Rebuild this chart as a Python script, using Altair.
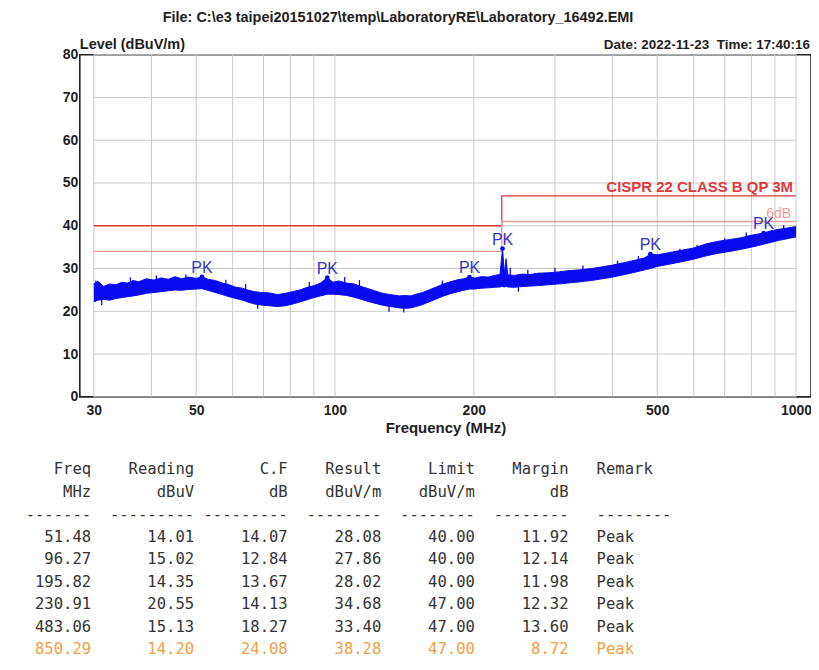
import altair as alt
import pandas as pd

NB = "\u00a0"
ZW = "\u200b"

# ---------------- texts ----------------
title_text = "File: C:\\e3 taipei20151027\\temp\\LaboratoryRE\\Laboratory_16492.EMI"
ylabel_text = "Level (dBuV/m)"
date_text = "Date: 2022-11-23" + NB + NB + "Time: 17:40:16"
limit_text = "CISPR 22 CLASS B QP 3M"
margin_text = "6dB"
xtitle_text = "Frequency (MHz)"

# ---------------- axes / grid ----------------
grid_freqs = [30, 40, 50, 60, 70, 80, 90, 100, 200, 300, 400, 500, 600, 700, 800, 900, 1000]
grid_levels = [0, 10, 20, 30, 40, 50, 60, 70, 80]
x_ticks = [30, 50, 100, 200, 500, 1000]
y_ticks = [0, 10, 20, 30, 40, 50, 60, 70, 80]

band_freq = [30, 30.6, 31.5, 32.5, 33.5, 34.5, 35.5, 36.5, 37.5, 39, 40.5, 42, 43.5, 45, 46.5, 48, 50,
             51.48, 53, 55, 57, 59, 61, 63, 65, 67, 69, 72, 75, 78, 81, 84, 87, 90, 93, 96.27, 99,
             102, 106, 110, 114, 118, 122, 126, 130, 134, 138, 142, 146, 150, 155, 160, 166, 172,
             178, 185, 190, 195.82, 201, 208, 215, 222, 228, 230.91, 233, 235, 237, 245, 255, 265,
             275, 290, 305, 320, 340, 360, 380, 400, 425, 450, 470, 483.06, 500, 530, 560, 600,
             640, 680, 720, 760, 800, 830, 850.29, 880, 920, 960, 1000]
band_lo = [22.2, 22.6, 22.8, 22.6, 23.0, 23.2, 23.4, 23.6, 23.8, 24.2, 24.4, 24.6, 24.8, 25.0, 24.9,
           25.1, 25.2, 25.3, 24.9, 24.4, 23.9, 23.4, 23.0, 22.6, 22.1, 21.7, 21.5, 21.3, 21.1, 21.3,
           21.7, 22.2, 22.7, 23.2, 23.6, 24.0, 24.0, 23.9, 23.7, 23.3, 22.8, 22.3, 21.9, 21.5, 21.2,
           21.0, 20.8, 20.7, 20.8, 21.1, 21.6, 22.2, 22.9, 23.6, 24.1, 24.6, 24.9, 25.2, 25.2, 25.4,
           25.5, 25.6, 25.7, 25.8, 25.7, 25.8, 25.7, 25.6, 25.8, 25.9, 26.0, 26.2, 26.4, 26.6, 26.9,
           27.2, 27.6, 28.0, 28.6, 29.2, 29.7, 30.0, 30.5, 31.0, 31.5, 32.2, 33.0, 33.6, 34.0, 34.5,
           35.0, 35.4, 35.7, 36.1, 36.6, 37.0, 37.4]
band_hi = [26.4, 27.0, 25.8, 26.4, 26.2, 26.8, 26.6, 27.2, 26.9, 27.6, 27.3, 27.8, 27.5, 28.1, 27.6,
           28.0, 27.7, 28.08, 27.5, 27.2, 26.6, 26.2, 25.6, 25.4, 24.9, 24.6, 24.4, 24.3, 23.9, 24.2,
           24.6, 25.0, 25.6, 26.0, 26.6, 27.86, 26.8, 27.1, 26.6, 26.4, 25.8, 25.3, 24.8, 24.3, 24.0,
           23.8, 23.6, 23.7, 23.6, 24.0, 24.4, 25.0, 25.7, 26.4, 26.9, 27.4, 27.6, 28.02, 27.8, 28.1,
           28.0, 28.4, 28.6, 34.68, 28.7, 32.3, 28.5, 28.4, 28.7, 28.6, 28.9, 29.0, 29.2, 29.5, 29.7,
           30.0, 30.4, 30.8, 31.4, 32.0, 32.5, 33.40, 33.2, 33.7, 34.2, 34.8, 35.8, 36.4, 36.8, 37.2,
           37.8, 38.1, 38.28, 38.8, 39.2, 39.5, 39.8]

# isolated noise excursions visible on the trace
spike_freq = [30.3, 31.2, 36, 41, 47.5, 58, 64, 68, 88, 105, 113, 131, 141, 171, 240, 250, 262,
              300, 345, 410, 455, 560, 610, 700, 780, 940]
spike_lo = [24.0, 21.4, 25.0, 25.8, 26.2, 24.9, 24.0, 20.6, 24.1, 25.2, 24.3, 19.9, 19.7, 24.9,
            27.1, 24.6, 27.2, 27.6, 28.3, 29.6, 30.4, 32.3, 32.9, 34.9, 36.2, 38.0]
spike_hi = [27.2, 24.0, 27.9, 28.4, 28.6, 27.4, 26.4, 23.0, 26.9, 28.0, 27.3, 22.6, 22.2, 27.2,
            30.2, 27.0, 29.7, 30.2, 30.7, 31.8, 32.9, 34.6, 35.5, 37.1, 38.4, 40.1]

# ---------------- limit lines ----------------
limit_freq = [30, 230, 1000]
limit_level = [40, 47, 47]
margin_level = [34, 41, 41]

# ---------------- peak table ----------------
pk_freq = [51.48, 96.27, 195.82, 230.91, 483.06, 850.29]
pk_reading = [14.01, 15.02, 14.35, 20.55, 15.13, 14.20]
pk_cf = [14.07, 12.84, 13.67, 14.13, 18.27, 24.08]
pk_result = [28.08, 27.86, 28.02, 34.68, 33.40, 38.28]
pk_limit = [40.00, 40.00, 40.00, 47.00, 47.00, 47.00]
pk_margin = [11.92, 12.14, 11.98, 12.32, 13.60, 8.72]
pk_remark = ["Peak"] * 6

head1 = ["Freq", "Reading", "C.F", "Result", "Limit", "Margin"]
head2 = ["MHz", "dBuV", "dB", "dBuV/m", "dBuV/m", "dB"]
dash_counts = [7, 9, 9, 8, 8, 8]
col_widths = [8, 11, 10, 10, 10, 10]

# ---------------- colours / fonts ----------------
FONT = "Liberation Sans"
MONO = "DejaVu Sans Mono"
BLUE = "#0a0af0"
PKBLUE = "#3434c8"
RED = "#e2383a"
PINK = "#f09a9a"
GRID = "#c9c9c9"
TEXT = "#1e1e1e"
TABLE = "#333333"
ORANGE = "#ef9f45"

W, H = 733, 343
xscale = alt.Scale(type="log", domain=[27.97, 1077.5], nice=False)
yscale = alt.Scale(domain=[0, 80], nice=False, zero=False)
xaxis = alt.Axis(values=x_ticks, title=xtitle_text, labelPadding=7, titlePadding=3,
                 labelFlush=False, format="d", labelBaseline="top")
yaxis = alt.Axis(values=y_ticks, title=None, labelPadding=2, labelFlush=False,
                 labelBaseline="middle", labelAlign="right")


def X(field):
    return alt.X(field, type="quantitative", scale=xscale, axis=xaxis)


def Y(field):
    return alt.Y(field, type="quantitative", scale=yscale, axis=yaxis)


vgrid_df = pd.DataFrame({"f": grid_freqs, "lo": [0] * len(grid_freqs), "hi": [80] * len(grid_freqs)})
hgrid_df = pd.DataFrame({"v": grid_levels, "f0": [30] * len(grid_levels), "f1": [1000] * len(grid_levels)})
band_df = pd.DataFrame({"f": band_freq, "lo": band_lo, "hi": band_hi})
spike_df = pd.DataFrame({"f": spike_freq, "lo": spike_lo, "hi": spike_hi})
limit_df = pd.DataFrame({"f": limit_freq, "v": limit_level})
margin_df = pd.DataFrame({"f": limit_freq, "v": margin_level})
pk_df = pd.DataFrame({"f": pk_freq, "v": pk_result, "t": ["PK"] * len(pk_freq)})

vgrid = alt.Chart(vgrid_df).mark_rule(color=GRID, strokeWidth=1).encode(
    x=X("f"), y=Y("lo"), y2="hi")
hgrid = alt.Chart(hgrid_df).mark_rule(color=GRID, strokeWidth=1).encode(
    x=X("f0"), x2="f1", y=Y("v"))
limit_line = alt.Chart(limit_df).mark_line(color=RED, strokeWidth=1.3, interpolate="step-after").encode(
    x=X("f"), y=Y("v"))
margin_line = alt.Chart(margin_df).mark_line(color=PINK, strokeWidth=1.3, interpolate="step-after").encode(
    x=X("f"), y=Y("v"))
band = alt.Chart(band_df).mark_area(color=BLUE, opacity=1).encode(
    x=X("f"), y=Y("lo"), y2="hi")
band_top = alt.Chart(band_df).mark_line(color=BLUE, strokeWidth=1).encode(x=X("f"), y=Y("hi"))
band_bot = alt.Chart(band_df).mark_line(color=BLUE, strokeWidth=1).encode(x=X("f"), y=Y("lo"))
spikes = alt.Chart(spike_df).mark_rule(color=BLUE, strokeWidth=1.3).encode(
    x=X("f"), y=Y("lo"), y2="hi")
pk_dots = alt.Chart(pk_df).mark_circle(color=BLUE, size=22, opacity=1).encode(x=X("f"), y=Y("v"))
pk_text = alt.Chart(pk_df).mark_text(font=FONT, fontSize=16, color=PKBLUE, align="center",
                                     baseline="alphabetic", dy=-4).encode(x=X("f"), y=Y("v"), text="t")

lim_lab = alt.Chart(pd.DataFrame({"f": [1000], "v": [47], "t": [limit_text]})).mark_text(
    font=FONT, fontSize=15, fontWeight="bold", color=RED, align="right", baseline="alphabetic",
    dx=-3, dy=-4).encode(x=X("f"), y=Y("v"), text="t")
mar_lab = alt.Chart(pd.DataFrame({"f": [1000], "v": [41], "t": [margin_text]})).mark_text(
    font=FONT, fontSize=14, color=PINK, align="right", baseline="alphabetic",
    dx=-5, dy=-4).encode(x=X("f"), y=Y("v"), text="t")


def label(txt, x, y, align="left", size=13, weight="bold", color=TEXT, font=FONT, baseline="alphabetic"):
    return alt.Chart(pd.DataFrame({"t": [txt]})).mark_text(
        font=font, fontSize=size, fontWeight=weight, color=color, align=align, baseline=baseline
    ).encode(x=alt.value(x), y=alt.value(y), text="t")


# page coordinates -> chart coordinates: (px - 80, py - 54)
title = label(title_text, 399 - 80, 21 - 54, align="center", size=14.5)
ylab = label(ylabel_text, 0, 48 - 54, align="left", size=14.5)
date = label(date_text, 812 - 80, 48 - 54, align="right", size=13.5)


def fmt_line(cells, remark):
    s = "".join(str(c).rjust(w) for c, w in zip(cells, col_widths)) + "   " + remark
    return ZW + s.replace(" ", NB)


lines = [fmt_line(head1, "Remark"), fmt_line(head2, ""),
         fmt_line(["-" * n for n in dash_counts], "-" * 8)]
for i in range(len(pk_freq)):
    cells = [f"{pk_freq[i]:.2f}", f"{pk_reading[i]:.2f}", f"{pk_cf[i]:.2f}",
             f"{pk_result[i]:.2f}", f"{pk_limit[i]:.2f}", f"{pk_margin[i]:.2f}"]
    lines.append(fmt_line(cells, pk_remark[i]))

line_y = [469.5, 492, 515.5, 537.5, 560, 582.5, 605, 627.5, 650]
table_x = 16.3 - 80
table_layers = []
for i, (ln, py) in enumerate(zip(lines, line_y)):
    col = ORANGE if i == len(lines) - 1 else TABLE
    table_layers.append(label(ln, table_x, py - 54, align="left", size=15.6, weight="normal",
                              color=col, font=MONO, baseline="middle"))

chart = alt.layer(
    vgrid, hgrid, limit_line, margin_line, band, band_top, band_bot, spikes, pk_dots, pk_text,
    lim_lab, mar_lab, title, ylab, date, *table_layers
).properties(
    width=W, height=H,
    autosize=alt.AutoSizeParams(type="none"),
    padding={"left": 72, "top": 46, "right": 0, "bottom": 261},
).configure_view(
    stroke="#222222", strokeWidth=1.6
).configure_axis(
    labelFont=FONT, labelFontSize=14, labelFontWeight="bold", labelColor=TEXT,
    titleFont=FONT, titleFontSize=15, titleFontWeight="bold", titleColor=TEXT,
    domain=False, ticks=False, tickSize=0, grid=False
)

chart.save("out.html", embed_options={"renderer": "svg", "actions": False})
